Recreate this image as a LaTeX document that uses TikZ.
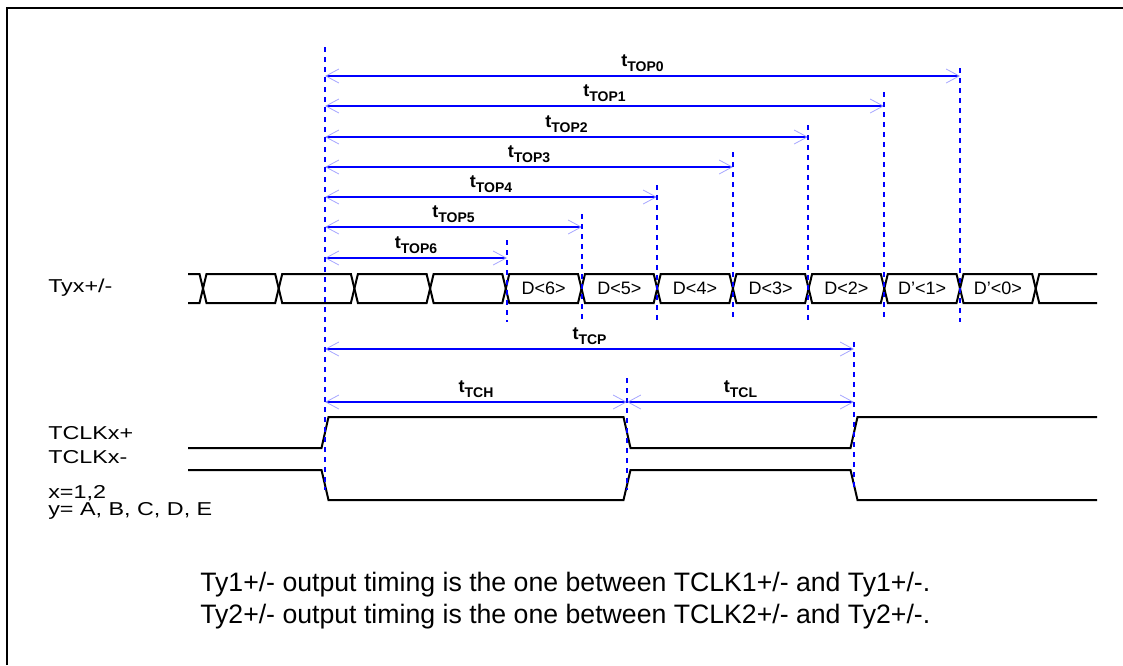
\documentclass[tikz,border=0pt]{standalone}
\usepackage{fontspec}
\setmainfont{Liberation Sans}
\newfontfamily\widesans[FakeStretch=1.25]{Liberation Sans}
\usetikzlibrary{arrows.meta}
\begin{document}
\begin{tikzpicture}[x=0.75pt,y=-0.75pt,
  wave/.style={line width=1.5pt, line join=miter},
  marker/.style={blue, line width=1.5pt, dash pattern=on 3.75pt off 3.75pt},
  barb/.tip={Straight Barb[length=9.75pt,width=10.5pt,color=blue!35,line width=0.6pt]},
  dim/.style={blue, line width=0.9pt, barb-barb},
  tlab/.style={text=black, font=\fontsize{13.5}{14}\selectfont\bfseries, anchor=south, inner sep=0pt, yshift=3pt},
  sig/.style={font=\widesans\fontsize{14}{16}\selectfont, anchor=west, inner sep=0pt},
  cell/.style={font=\fontsize{13.5}{14}\selectfont, inner sep=0pt},
  note/.style={font=\fontsize{20}{22}\selectfont, anchor=west, inner sep=0pt}
]
\useasboundingbox (0,0) rectangle (1123,665);

% outer frame (top and left edges)
\draw[line width=1.5pt] (7,665) -- (7,8) -- (1123,8);

% ---------------- data bus Tyx+/- ----------------
\def\hw{3.5}
\def\bt{274}
\def\bb{303}
\def\bm{288.5}
\draw[wave] (188,\bt) -- (203-\hw,\bt) -- (203,\bm) -- (203-\hw,\bb) -- (188,\bb);
\foreach \k in {0,...,10}{
  \pgfmathsetmacro{\ca}{203+75.7*\k}
  \pgfmathsetmacro{\cb}{203+75.7*(\k+1)}
  \draw[wave] (\ca,\bm) -- (\ca+\hw,\bt) -- (\cb-\hw,\bt) -- (\cb,\bm)
              -- (\cb-\hw,\bb) -- (\ca+\hw,\bb) -- cycle;
}
\draw[wave] (1097,\bt) -- (1035.7+\hw,\bt) -- (1035.7,\bm) -- (1035.7+\hw,\bb) -- (1097,\bb);

\node[cell] (d6) at (543.6,\bm) {D<6>};
\node[cell] (d5) at (619.3,\bm) {D<5>};
\node[cell] (d4) at (695.0,\bm) {D<4>};
\node[cell] (d3) at (770.7,\bm) {D<3>};
\node[cell] (d2) at (846.4,\bm) {D<2>};
\node[cell] (d1) at (922.1,\bm) {D’<1>};
\node[cell] (d0) at (997.8,\bm) {D’<0>};

% ---------------- clocks ----------------
\draw[wave] (188,448) -- (321.5,448) -- (328.5,417) -- (623.5,417) -- (630.5,448)
            -- (850.5,448) -- (857.5,417) -- (1097,417);
\draw[wave] (188,470) -- (321.5,470) -- (328.5,500) -- (623.5,500) -- (630.5,470)
            -- (850.5,470) -- (857.5,500) -- (1097,500);

% ---------------- signal names and notes ----------------
\node[sig] (ty)  at (48,288) {Tyx+/-};
\node[sig] (ckp) at (48,433) {TCLKx+};
\node[sig] (ckm) at (48,457) {TCLKx-};
\node[sig] (xv)  at (48,493) {x=1,2};
\node[sig] (yv)  at (48,511) {y= A, B, C, D, E};
\node[note] (n1) at (200,585) {Ty1+/- output timing is the one between TCLK1+/- and Ty1+/-.};
\node[note] (n2) at (200,617) {Ty2+/- output timing is the one between TCLK2+/- and Ty2+/-.};

% ---------------- reference points ----------------
\coordinate (s0) at (325,76);  \coordinate (e0) at (960,76);
\coordinate (s1) at (325,106); \coordinate (e1) at (884,106);
\coordinate (s2) at (325,137); \coordinate (e2) at (808,137);
\coordinate (s3) at (325,167); \coordinate (e3) at (733,167);
\coordinate (s4) at (325,197); \coordinate (e4) at (657,197);
\coordinate (s5) at (325,227); \coordinate (e5) at (582,227);
\coordinate (s6) at (325,258); \coordinate (e6) at (507,258);
\coordinate (sp) at (325,349); \coordinate (ep) at (854,349);
\coordinate (sh) at (325,402); \coordinate (mh) at (627,402); \coordinate (el) at (854,402);

% ---------------- dimension arrows ----------------
\newcommand\tsub[1]{t\raisebox{-3.75pt}{\fontsize{10.5}{11}\selectfont #1}}
\draw[dim] (s0) -- node[tlab]{\tsub{TOP0}} (e0);
\draw[dim] (s1) -- node[tlab]{\tsub{TOP1}} (e1);
\draw[dim] (s2) -- node[tlab]{\tsub{TOP2}} (e2);
\draw[dim] (s3) -- node[tlab]{\tsub{TOP3}} (e3);
\draw[dim] (s4) -- node[tlab]{\tsub{TOP4}} (e4);
\draw[dim] (s5) -- node[tlab]{\tsub{TOP5}} (e5);
\draw[dim] (s6) -- node[tlab]{\tsub{TOP6}} (e6);
\draw[dim] (sp) -- node[tlab]{\tsub{TCP}} (ep);
\draw[dim] (sh) -- node[tlab]{\tsub{TCH}} (mh);
\draw[dim] (mh) -- node[tlab]{\tsub{TCL}} (el);

% ---------------- dashed markers ----------------
\draw[marker] (325,47) -- (325,490);
\draw[marker] (507,240) -- (507,322);
\draw[marker] (582,214) -- (582,322);
\draw[marker] (657,185) -- (657,322);
\draw[marker] (733,152) -- (733,322);
\draw[marker] (808,125) -- (808,322);
\draw[marker] (884,92) -- (884,322);
\draw[marker] (960,68) -- (960,322);
\draw[marker] (627,378) -- (627,490);
\draw[marker] (854,342) -- (854,490);
\end{tikzpicture}
\end{document}
